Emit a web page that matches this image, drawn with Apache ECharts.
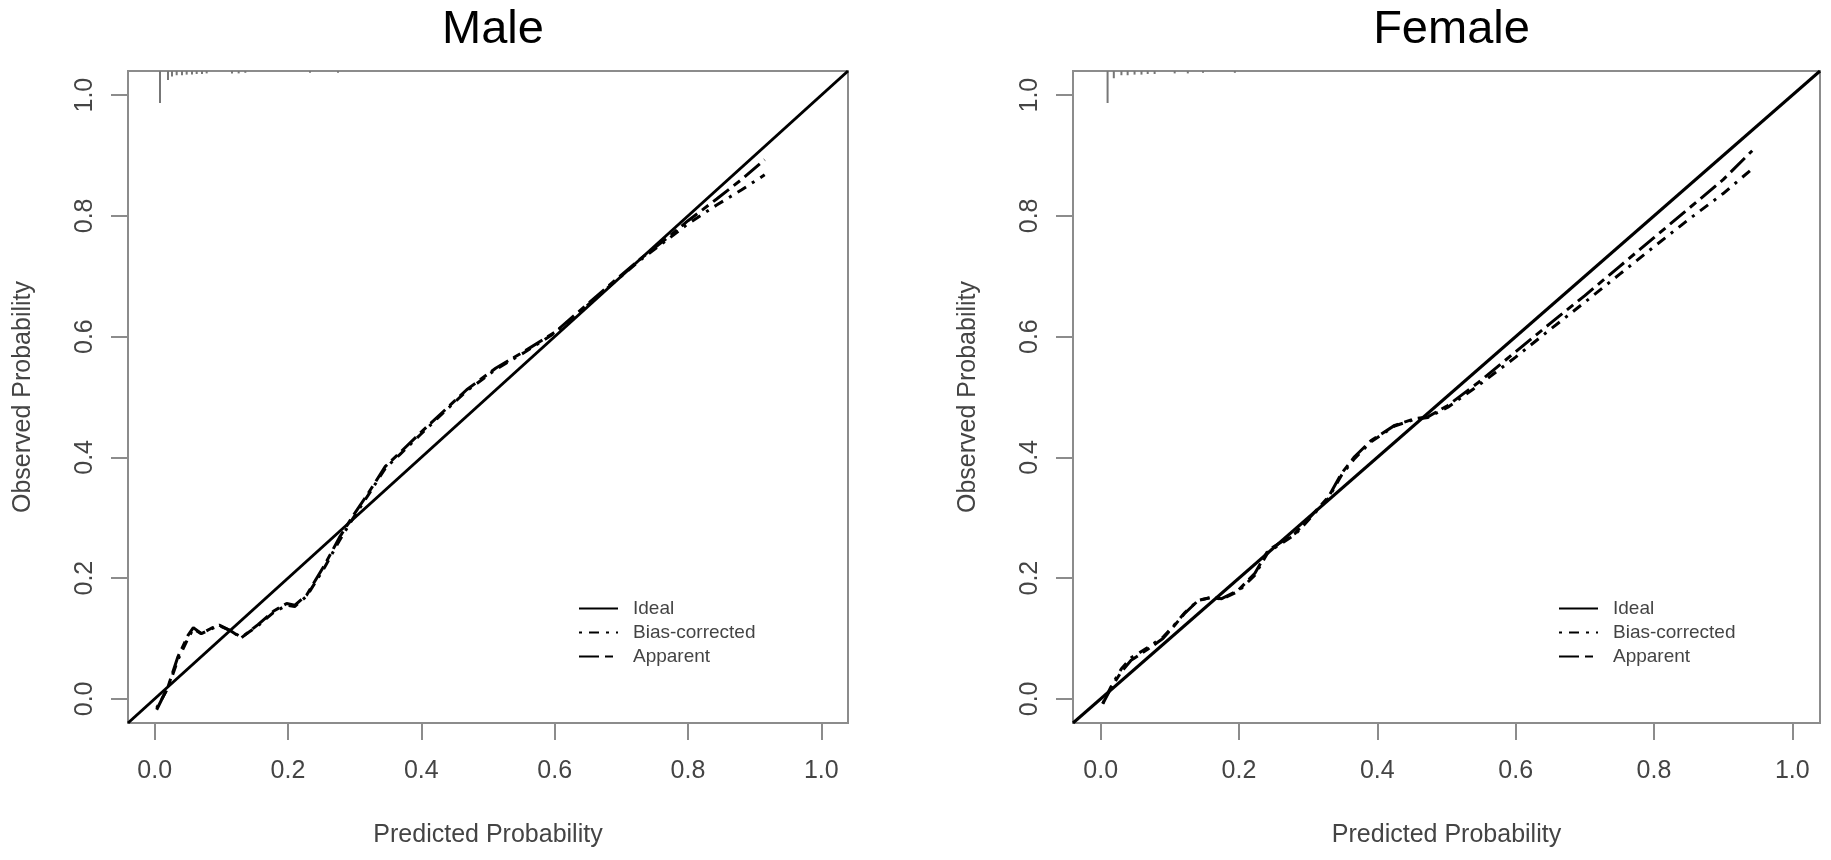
<!DOCTYPE html>
<html>
  <head>
    <meta charset="utf-8">
    <script src="https://cdn.jsdelivr.net/npm/echarts@6.0.0/dist/echarts.min.js"></script>
    <style>
      html, body { margin: 0; padding: 0; background: #fff; }
      #chart { width: 1831px; height: 860px; }
    </style>
  </head>
  <body>
    <div id="chart"></div>
    <script>
      // tick values shared by both panels
      var tickValues = [0, 0.2, 0.4, 0.6, 0.8, 1.0];
      var panelTitles = ['Male', 'Female'];
      var legendNames = ['Ideal', 'Bias-corrected', 'Apparent'];

      // Male calibration curves
      var maleX        = [0.003, 0.02, 0.035, 0.05, 0.058, 0.07, 0.085, 0.097, 0.112, 0.13, 0.155, 0.178, 0.198, 0.21, 0.228, 0.255, 0.277, 0.298, 0.32, 0.346, 0.368, 0.398, 0.433, 0.468, 0.512, 0.555, 0.6, 0.643, 0.686, 0.73, 0.773, 0.8, 0.843, 0.88, 0.915];
      var maleApparent = [-0.018, 0.02, 0.07, 0.105, 0.118, 0.108, 0.117, 0.122, 0.114, 0.101, 0.123, 0.145, 0.158, 0.155, 0.172, 0.222, 0.267, 0.304, 0.34, 0.385, 0.408, 0.44, 0.476, 0.512, 0.548, 0.576, 0.607, 0.648, 0.689, 0.73, 0.767, 0.792, 0.828, 0.86, 0.893];
      var maleBias     = [-0.015, 0.018, 0.065, 0.1, 0.116, 0.108, 0.116, 0.121, 0.114, 0.102, 0.121, 0.143, 0.155, 0.153, 0.17, 0.218, 0.262, 0.3, 0.337, 0.382, 0.405, 0.437, 0.474, 0.51, 0.546, 0.574, 0.606, 0.646, 0.687, 0.728, 0.764, 0.787, 0.818, 0.843, 0.868];

      // Female calibration curves
      var femaleX        = [0.003, 0.015, 0.03, 0.044, 0.068, 0.09, 0.107, 0.121, 0.141, 0.16, 0.175, 0.199, 0.223, 0.242, 0.281, 0.329, 0.348, 0.367, 0.391, 0.425, 0.454, 0.473, 0.502, 0.546, 0.6, 0.65, 0.7, 0.75, 0.8, 0.85, 0.9, 0.942];
      var femaleApparent = [-0.008, 0.018, 0.045, 0.064, 0.082, 0.1, 0.122, 0.141, 0.163, 0.168, 0.166, 0.18, 0.208, 0.246, 0.274, 0.334, 0.373, 0.401, 0.428, 0.453, 0.464, 0.467, 0.486, 0.524, 0.575, 0.622, 0.668, 0.716, 0.764, 0.812, 0.86, 0.908];
      var femaleBias     = [-0.008, 0.02, 0.05, 0.068, 0.085, 0.102, 0.123, 0.142, 0.163, 0.168, 0.165, 0.178, 0.205, 0.243, 0.272, 0.332, 0.37, 0.398, 0.426, 0.452, 0.463, 0.466, 0.483, 0.519, 0.566, 0.612, 0.657, 0.703, 0.749, 0.794, 0.837, 0.878];

      // rug of predicted probabilities along the top (x, spike length)
      var maleRugX   = [0.008, 0.02, 0.026, 0.033, 0.041, 0.048, 0.056, 0.063, 0.071, 0.078, 0.116, 0.126, 0.136, 0.233, 0.275];
      var maleRugLen = [0.053, 0.015, 0.009, 0.007, 0.007, 0.006, 0.006, 0.005, 0.005, 0.004, 0.004, 0.004, 0.003, 0.003, 0.003];
      var femaleRugX   = [0.01, 0.019, 0.03, 0.039, 0.049, 0.059, 0.068, 0.078, 0.107, 0.126, 0.148, 0.194];
      var femaleRugLen = [0.053, 0.012, 0.007, 0.007, 0.006, 0.006, 0.005, 0.005, 0.004, 0.004, 0.003, 0.003];

      var lo = -0.04, hi = 1.04;
      var font = '"Liberation Sans", Arial, sans-serif';

      function pairs(xs, ys) {
        return xs.map(function (x, i) { return [x, ys[i]]; });
      }

      var grids = [
        { left: 128, top: 71, width: 720, height: 652 },
        { left: 1073, top: 71, width: 747, height: 652 }
      ];
      var curves = [
        { x: maleX, app: maleApparent, bias: maleBias, rugX: maleRugX, rugLen: maleRugLen },
        { x: femaleX, app: femaleApparent, bias: femaleBias, rugX: femaleRugX, rugLen: femaleRugLen }
      ];

      var option = {
        animation: false,
        backgroundColor: '#fff',
        title: [],
        legend: [],
        grid: [],
        xAxis: [],
        yAxis: [],
        series: []
      };

      grids.forEach(function (g, i) {
        option.grid.push({
          left: g.left, top: g.top, width: g.width, height: g.height,
          show: true, borderColor: '#8c8c8c', borderWidth: 2, backgroundColor: 'transparent'
        });
        option.title.push({
          text: panelTitles[i],
          left: g.left + g.width / 2,
          top: 2,
          textAlign: 'center',
          textStyle: { fontFamily: font, fontSize: 47, fontWeight: 'normal', color: '#000' }
        });
        option.legend.push({
          data: legendNames,
          orient: 'vertical',
          left: g.left + (i === 0 ? 445 : 480),
          top: 594,
          itemWidth: 39,
          itemHeight: 14,
          itemGap: 5,
          itemStyle: { opacity: 0 },
          textStyle: { fontFamily: font, fontSize: 19, color: '#444', padding: [0, 0, 0, 10] }
        });
        option.xAxis.push({
          type: 'value', gridIndex: i, min: lo, max: hi,
          name: 'Predicted Probability', nameLocation: 'middle', nameGap: 100,
          nameTextStyle: { fontFamily: font, fontSize: 25, color: '#444' },
          axisLine: { show: false, onZero: false },
          axisTick: { show: true, inside: false, length: 17, customValues: tickValues, lineStyle: { color: '#8c8c8c', width: 2 } },
          axisLabel: { customValues: tickValues, margin: 36, fontFamily: font, fontSize: 25, color: '#444',
            formatter: function (v) { return v.toFixed(1); } },
          splitLine: { show: false }
        });
        option.yAxis.push({
          type: 'value', gridIndex: i, min: lo, max: hi,
          name: 'Observed Probability', nameLocation: 'middle', nameGap: 92,
          nameTextStyle: { fontFamily: font, fontSize: 25, color: '#444' },
          axisLine: { show: false, onZero: false },
          axisTick: { show: true, inside: false, length: 17, customValues: tickValues, lineStyle: { color: '#8c8c8c', width: 2 } },
          axisLabel: { customValues: tickValues, rotate: 90, margin: 30, fontFamily: font, fontSize: 25, color: '#444',
            formatter: function (v) { return v.toFixed(1); } },
          splitLine: { show: false }
        });

        var c = curves[i];
        option.series.push({
          name: 'Ideal', type: 'line', xAxisIndex: i, yAxisIndex: i,
          data: [[lo, lo], [hi, hi]], symbol: 'none',
          lineStyle: { color: '#000', width: 3 }, itemStyle: { color: '#000' }
        });
        option.series.push({
          name: 'Bias-corrected', type: 'line', xAxisIndex: i, yAxisIndex: i,
          data: pairs(c.x, c.bias), symbol: 'none',
          lineStyle: { color: '#000', width: 3, type: [3, 7, 10, 7] }, itemStyle: { color: '#000' }
        });
        option.series.push({
          name: 'Apparent', type: 'line', xAxisIndex: i, yAxisIndex: i,
          data: pairs(c.x, c.app), symbol: 'none',
          lineStyle: { color: '#000', width: 3, type: [20, 6, 8, 6] }, itemStyle: { color: '#000' }
        });
        option.series.push({
          type: 'custom', xAxisIndex: i, yAxisIndex: i, silent: true,
          data: pairs(c.rugX, c.rugLen),
          renderItem: function (params, api) {
            var p0 = api.coord([api.value(0), hi]);
            var p1 = api.coord([api.value(0), hi - api.value(1)]);
            return {
              type: 'line',
              shape: { x1: p0[0], y1: p0[1], x2: p1[0], y2: p1[1] },
              style: { stroke: '#777', lineWidth: 2 }
            };
          }
        });
      });

      var chart = echarts.init(document.getElementById('chart'), null, { renderer: 'canvas' });
      chart.setOption(option);
    </script>
  </body>
</html>
